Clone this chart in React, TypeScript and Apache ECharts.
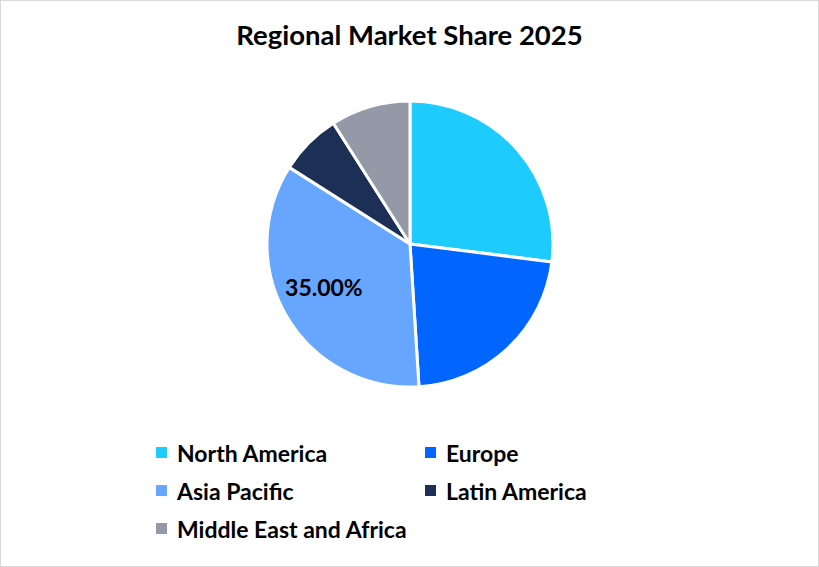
import React, { useEffect, useRef } from "react";
import * as echarts from "echarts";

const regions = ["North America", "Europe", "Asia Pacific", "Latin America", "Middle East and Africa"];
const shares = [27, 22, 35, 7, 9];
const colors = ["#1ECBFD", "#0066FF", "#66A6FF", "#1C2F55", "#9399A6"];
const labelledRegion = "Asia Pacific";
const legendLeftCol = ["North America", "Asia Pacific", "Middle East and Africa"];
const legendRightCol = ["Europe", "Latin America"];

const FONT = "Lato";

export default function App() {
  const ref = useRef<HTMLDivElement>(null);
  useEffect(() => {
    const chart = echarts.init(ref.current!, undefined, { renderer: "svg" });
    const legendCommon = {
      orient: "vertical" as const,
      top: 435,
      itemWidth: 13,
      itemHeight: 13,
      itemGap: 15,
      icon: "rect",
      selectedMode: false,
      textStyle: { fontFamily: FONT, fontWeight: "bold" as const, fontSize: 23, color: "#000", padding: [0, 0, 0, 4] },
    };
    chart.setOption({
      animation: false,
      backgroundColor: "#fff",
      title: {
        text: "Regional Market Share 2025",
        left: "center",
        top: 14,
        textStyle: { fontFamily: FONT, fontWeight: "bold", fontSize: 27.5, color: "#000" },
      },
      legend: [
        { ...legendCommon, left: 148, data: legendLeftCol },
        { ...legendCommon, left: 417, data: legendRightCol },
      ],
      series: [
        {
          type: "pie",
          center: [409, 243],
          radius: 143,
          startAngle: 90,
          clockwise: true,
          itemStyle: { borderColor: "#fff", borderWidth: 3 },
          label: { show: false },
          labelLine: { show: false },
          emphasis: { disabled: true },
          data: regions.map((name, i) => ({
            name,
            value: shares[i],
            itemStyle: { color: colors[i] },
            label:
              name === labelledRegion
                ? {
                    show: true,
                    position: "inside",
                    offset: [-22, 5],
                    formatter: (p: any) => p.percent.toFixed(2) + "%",
                    fontFamily: FONT,
                    fontWeight: "bold",
                    fontSize: 23,
                    color: "#000",
                  }
                : { show: false },
          })),
        },
      ],
    });
    return () => chart.dispose();
  }, []);
  return (
    <div
      ref={ref}
      style={{
        position: "absolute",
        left: 0,
        top: 0,
        width: 819,
        height: 567,
        boxSizing: "border-box",
        border: "1px solid #d9d9d9",
      }}
    />
  );
}
